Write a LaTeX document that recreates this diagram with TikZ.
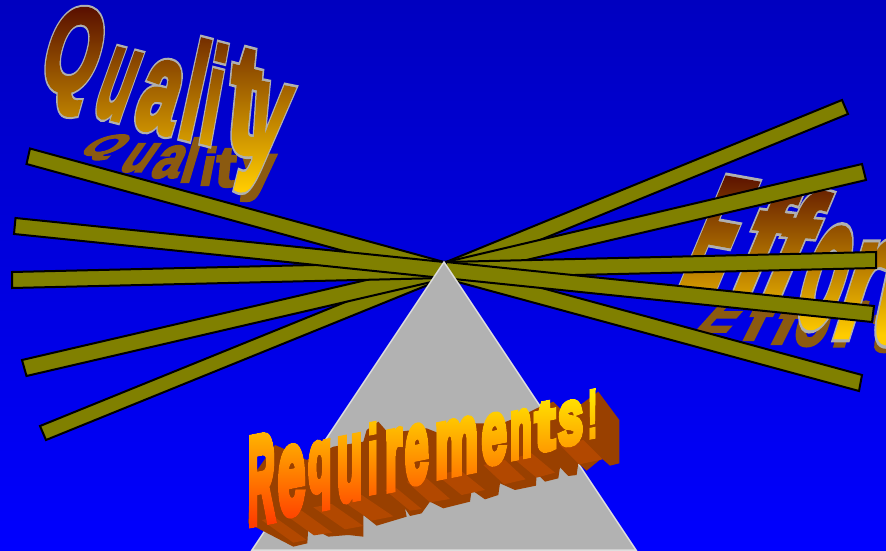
\documentclass[tikz,border=0pt]{standalone}
\usepackage{fontspec}
\usepackage{graphicx}
\usetikzlibrary{calc,fadings}
\newfontfamily\wordfill[FakeBold=4]{Liberation Sans Bold}
\newfontfamily\wordline[FakeBold=7.5]{Liberation Sans Bold}
\newfontfamily\wordheavy[FakeBold=8]{Liberation Sans Bold}
\let\wordface\wordfill
\newcommand{\wordtint}{white}
\definecolor{armolive}{RGB}{128,128,0}
\definecolor{prismgray}{RGB}{178,178,178}
\definecolor{prismedge}{RGB}{222,222,222}
\definecolor{wordgray}{RGB}{176,176,176}
\definecolor{wordshadow}{RGB}{139,90,16}
\definecolor{deepbrown}{RGB}{90,16,0}
\definecolor{wordgold}{RGB}{255,204,0}
\definecolor{sidedark}{RGB}{153,64,0}
\definecolor{sidemid}{RGB}{178,72,0}
% canvas is the middle 50bp of the shading: y px -> 75-50*y/551
\pgfdeclareverticalshading{qualityshade}{100bp}{color(0bp)=(wordgold); color(57.8bp)=(wordgold); color(74.3bp)=(deepbrown); color(100bp)=(deepbrown)}
\pgfdeclareverticalshading{effortshade}{100bp}{color(0bp)=(wordgold); color(44.6bp)=(wordgold); color(59.3bp)=(deepbrown); color(100bp)=(deepbrown)}
\pgfdeclareverticalshading{reqshade}{100bp}{rgb(0bp)=(1,0.24,0); rgb(27.5bp)=(1,0.24,0); rgb(39.4bp)=(1,0.91,0); rgb(100bp)=(1,0.91,0)}
\tikzset{
  armbar/.style={fill=armolive,draw=black,line width=2pt,line join=miter},
  wordfade/.style={path fading=#1,fit fading=false,fading transform={xshift=443pt,yshift=-275.5pt}},
}
% corner x, corner y, yslant, xslant, width, height, character
\newcommand{\wordletter}[7]{%
  \begin{pgfscope}\pgftransformcm{1}{#3}{#4}{1}{\pgfpoint{#1pt}{-#2pt}}%
    \pgftext[left,bottom]{\resizebox*{#5pt}{#6pt}{\color{\wordtint}\wordface #7}}%
  \end{pgfscope}}
\newcommand{\qualityword}{%
  \wordletter{30}{110}{-0.12}{0.28}{54}{104}{Q}%
  \wordletter{90}{114}{-0.26}{0.36}{32}{66}{u}%
  \wordletter{131}{126}{-0.26}{0.3}{38}{68}{a}%
  \wordletter{176}{135}{-0.26}{0.22}{18}{96}{l}%
  \wordletter{197}{140}{-0.26}{0.18}{17}{96}{i}%
  \wordletter{225}{148}{-0.26}{0.1}{29}{100}{t}%
  \wordletter{232}{188}{-0.2}{0.25}{36}{105}{y}}
\newcommand{\effortword}{%
  \wordletter{677}{284}{-0.18}{0.42}{40}{106}{E}%
  \wordletter{726}{292}{-0.12}{0.42}{32}{108}{f}%
  \wordletter{756}{296}{-0.08}{0.42}{32}{104}{f}%
  \wordletter{790}{326}{-0.04}{0.3}{42}{98}{o}%
  \wordletter{830}{336}{0}{0.32}{34}{92}{r}%
  \wordletter{866}{342}{0.02}{0.22}{36}{128}{t}}
\newcommand{\reqword}{%
  \wordletter{248}{524}{0.2}{0}{27}{84}{R}%
  \wordletter{278}{516.5}{0.2}{0}{27}{66}{e}%
  \wordletter{308}{511}{0.2}{0}{23.5}{66}{q}%
  \wordletter{337}{502}{0.2}{0}{25}{61}{u}%
  \wordletter{367}{494.5}{0.2}{0}{11.7}{70}{\wordfill i}%
  \wordletter{385}{490}{0.2}{0}{16.7}{57}{r}%
  \wordletter{405}{485}{0.2}{0}{23.5}{56}{e}%
  \wordletter{435}{477.5}{0.2}{0}{43}{52}{m}%
  \wordletter{481.7}{465.7}{0.2}{0}{25}{48}{e}%
  \wordletter{510}{458.7}{0.2}{0}{21.7}{45}{n}%
  \wordletter{535}{452.3}{0.2}{0}{20}{47}{t}%
  \wordletter{558}{446.7}{0.2}{0}{25}{42}{s}%
  \wordletter{586.7}{439}{0.2}{0}{11.7}{48}{\wordfill !}}
\newcommand{\canvasbox}{\pgfpathrectanglecorners{\pgfpointorigin}{\pgfpoint{886pt}{-551pt}}\pgfusepath{use as bounding box}}
\begin{document}%
\pgfdeclarefading{qualityfade}{\begin{pgfpicture}\canvasbox\qualityword\end{pgfpicture}}%
\pgfdeclarefading{effortfade}{\begin{pgfpicture}\canvasbox\effortword\end{pgfpicture}}%
\pgfdeclarefading{reqfade}{\begin{pgfpicture}\canvasbox\let\wordface\wordheavy\reqword\end{pgfpicture}}%
\begin{tikzpicture}[x=1pt,y=-1pt]
\useasboundingbox (0,0) rectangle (886,551);
\shade[top color={rgb,255:red,0;green,0;blue,192},bottom color={rgb,255:red,0;green,0;blue,255}] (0,0) rectangle (886,551);
% ---------------- effort, behind the arms ----------------
\begin{scope}
  \def\wordtint{wordshadow}
  \wordletter{692}{332}{0}{0.9}{36}{34}{E}
  \wordletter{738}{340}{0}{0.5}{22}{40}{f}
  \wordletter{766}{344}{0}{0.5}{22}{44}{f}
  \wordletter{790}{346}{0}{0.3}{34}{42}{o}
  \wordletter{830}{346}{0}{0.3}{26}{44}{r}
  \wordletter{868}{352}{0}{0.2}{26}{44}{t}
\end{scope}
\begin{scope}
  \def\wordtint{wordgray}\let\wordface\wordline
  \effortword
\end{scope}
\shade[shading=effortshade,wordfade=effortfade] (0,0) rectangle (886,551);
% ---------------- arms of the balance ----------------
\coordinate (leftapex) at (444,262);
\coordinate (rightapex) at (446,262);
\foreach \ax/\ay/\bx/\by in {30/148.5/26.5/164,40/426/46/440,22/360/26.5/376,12/272/12/288,15.5/218/14/234}{
  \draw[armbar] (\ax,\ay) -- (leftapex) -- ($(leftapex)+(\bx,\by)-(\ax,\ay)$) -- (\bx,\by) -- cycle;}
\foreach \ax/\ay/\bx/\by in {842/100/848/114,862/164/866/180,876/252/876/268,862/375/859/391,874/306/872/322}{
  \draw[armbar] (\ax,\ay) -- (rightapex) -- ($(rightapex)+(\bx,\by)-(\ax,\ay)$) -- (\bx,\by) -- cycle;}
\draw[fill=prismgray,draw=prismedge,line width=1.5pt] (444,262) -- (636,550) -- (252,550) -- cycle;
% ---------------- quality, in front of the arms ----------------
\begin{scope}
  \def\wordtint{wordshadow}
  \wordletter{70}{163}{0.1}{1}{42}{26}{Q}
  \wordletter{116}{172}{0}{0.7}{28}{28}{u}
  \wordletter{148}{178}{0}{0.5}{28}{32}{a}
  \wordletter{178}{182}{0}{0.3}{14}{44}{l}
  \wordletter{198}{185}{0}{0.2}{14}{38}{i}
  \wordletter{214}{187}{0}{0.1}{20}{38}{t}
  \wordletter{238}{201}{0}{0.1}{34}{46}{y}
\end{scope}
\begin{scope}
  \def\wordtint{wordgray}\let\wordface\wordline
  \qualityword
\end{scope}
\shade[shading=qualityshade,wordfade=qualityfade] (0,0) rectangle (886,551);
% ---------------- requirements, with its side faces ----------------
\begin{scope}[shift={(230,380)},x=0.3333pt,y=-0.3333pt]
  \fill[sidedark] (1105,35) -- (1168,120) -- (1168,250) -- (1140,257) -- (1115,235) -- (1070,272) -- (1045,250) -- (1040,285) -- (1015,288)
    -- (990,262) -- (985,295) -- (945,305) -- (920,280) -- (918,317) -- (855,330) -- (810,310) -- (805,345) -- (765,358) -- (725,330)
    -- (720,365) -- (640,385) -- (600,365) -- (575,400) -- (540,408) -- (525,385) -- (530,410) -- (440,437) -- (400,405) -- (400,470)
    -- (355,465) -- (295,470) -- (235,440) -- (232,490) -- (190,500) -- (55,430) -- (60,300) -- (135,195) -- (170,210) -- (230,240)
    -- (310,200) -- (400,185) -- (410,150) -- (445,125) -- (480,165) -- (510,155) -- (590,145) -- (640,165) -- (725,130) -- (815,130)
    -- (880,105) -- (920,85) -- (970,65) -- (1010,105) -- (1105,35) -- cycle;
  \foreach \ax/\ay/\bx/\by/\dx/\dy in {95/420/135/412/95/68,160/400/215/392/92/66,250/382/305/372/95/66,330/358/395/345/95/64,
      465/330/500/325/75/62,530/305/590/295/70/62,620/285/690/270/75/60,760/255/825/240/62/58,850/235/905/220/70/58,990/195/1060/180/58/58}{
    \fill[sidemid] (\ax,\ay) -- (\bx,\by) -- ($(\bx,\by)+(\dx,\dy)$) -- ($(\ax,\ay)+(\dx,\dy)$) -- cycle;}
\end{scope}
\shade[shading=reqshade,wordfade=reqfade] (0,0) rectangle (886,551);
\end{tikzpicture}%
\end{document}
